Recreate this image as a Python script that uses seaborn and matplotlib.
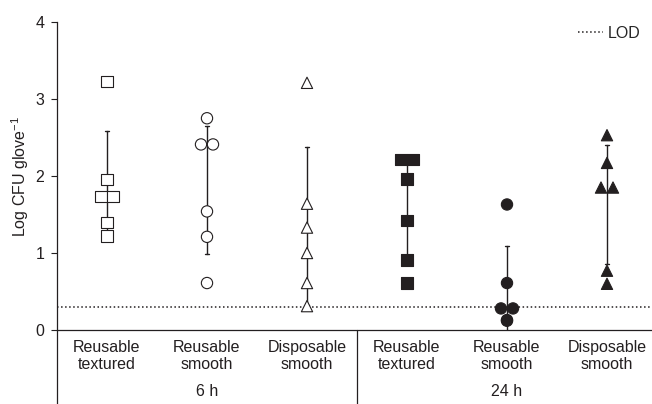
import numpy as np
import pandas as pd
import matplotlib
matplotlib.use("Agg")
import matplotlib.pyplot as plt
import seaborn as sns

# glove types and sampling times
gloves = ["Reusable\ntextured", "Reusable\nsmooth", "Disposable\nsmooth"]
times = ["6 h", "24 h"]

# Log CFU per glove
reusable_textured_6h = [3.23, 1.95, 1.73, 1.73, 1.40, 1.22]
reusable_smooth_6h = [2.75, 2.41, 2.41, 1.54, 1.21, 0.61]
disposable_smooth_6h = [3.21, 1.64, 1.33, 1.00, 0.61, 0.31]
reusable_textured_24h = [2.21, 2.21, 1.96, 1.42, 0.91, 0.61]
reusable_smooth_24h = [1.63, 0.61, 0.28, 0.28, 0.13, 0.12]
disposable_smooth_24h = [2.53, 2.17, 1.85, 1.85, 0.77, 0.60]

lod = 0.3  # limit of detection

sns.set_style("ticks")
plt.rcParams["font.family"] = ["Liberation Sans", "DejaVu Sans"]
plt.rcParams["mathtext.default"] = "regular"
ink = "#231f20"
fs = 11.5

series = [
    [reusable_textured_6h, reusable_smooth_6h, disposable_smooth_6h],
    [reusable_textured_24h, reusable_smooth_24h, disposable_smooth_24h],
]
rows = []
for t_i, t in enumerate(times):
    for g_i, g in enumerate(gloves):
        for v in series[t_i][g_i]:
            rows.append({"time": t, "glove": g, "slot": t_i * 3 + g_i, "value": v})
df = pd.DataFrame(rows)

# group centres, tied values spread side by side
df["pos"] = df["slot"] + 0.5
n_tie = df.groupby(["slot", "value"])["value"].transform("size")
k_tie = df.groupby(["slot", "value"]).cumcount()
df["x"] = df["pos"] + (k_tie - (n_tie - 1) / 2) * 0.12

fig = plt.figure(figsize=(6.52, 4.04), dpi=100)
ax = fig.add_axes([57 / 652, 74 / 404, 595 / 652, 308 / 404])

# mean +/- SD bars, no mean marker
sns.pointplot(data=df, x="pos", y="value", native_scale=True, errorbar="sd",
              capsize=0.035, linestyle="none", marker="", color=ink,
              err_kws={"linewidth": 1.0}, ax=ax)

sns.scatterplot(data=df, x="x", y="value", hue="time", style="glove",
                palette={"6 h": "white", "24 h": ink},
                markers={gloves[0]: "s", gloves[1]: "o", gloves[2]: "^"},
                s=66, edgecolor=ink, linewidth=0.8, legend=False,
                zorder=3, clip_on=False, ax=ax)

ax.axhline(lod, color=ink, ls=":", lw=1.1, label="LOD", zorder=1)
ax.legend(loc="upper right", frameon=False, fontsize=fs, handlelength=1.6,
          handletextpad=0.3, bbox_to_anchor=(1.005, 1.035))

ax.set_xlim(0, 5.95)
ax.set_ylim(0, 4)
ax.set_yticks(range(5))
ax.set_ylabel("Log CFU glove$^{-1}$", fontsize=fs, color=ink, labelpad=3)

centres = np.arange(6) + 0.5
ax.set_xticks(centres, gloves * 2)
ax.set_xlabel("")
ax.tick_params(axis="x", length=0, pad=7, labelsize=fs, colors=ink)
ax.tick_params(axis="y", length=4, width=0.8, labelsize=fs, colors=ink, pad=5)

sns.despine(ax=ax)
for side in ["left", "bottom"]:
    ax.spines[side].set_color(ink)
    ax.spines[side].set_linewidth(0.9)

# left axis carried down through the label band, and the 6 h / 24 h divider
trans = ax.get_xaxis_transform()
ax.plot([0, 0], [0, -0.25], transform=trans, clip_on=False, color=ink, lw=0.9)
ax.plot([3, 3], [0, -0.25], transform=trans, clip_on=False, color=ink, lw=0.9)
ax.text(centres[1], -0.2, times[0], transform=trans, ha="center", va="center",
        fontsize=fs, color=ink)
ax.text(centres[4], -0.2, times[1], transform=trans, ha="center", va="center",
        fontsize=fs, color=ink)

plt.savefig("out.png", dpi=100)
